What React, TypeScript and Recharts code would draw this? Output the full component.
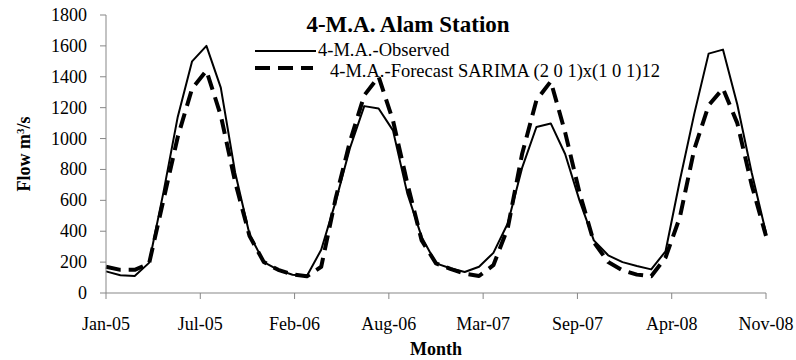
import * as React from "react";
import { LineChart, Line, XAxis, YAxis, Legend } from "recharts";

const FONT = "'Liberation Serif', 'Times New Roman', Times, serif";
const AXIS_GREY = "#878787";

// 4-month moving average of monthly flow (m3/s), Jan-05 .. Nov-08
const observed = [
  140, 115, 110, 195, 650, 1140, 1500, 1600, 1330, 780, 380, 200, 150, 118, 110,
  280, 590, 937, 1210, 1195, 1053, 645, 363, 192,
  160, 136, 170, 260, 450, 810, 1075, 1098, 900, 600, 341, 244, 200, 175, 153,
  270, 730, 1160, 1550, 1576, 1220, 780, 390,
];
const forecast = [
  170, 150, 150, 190, 600, 1010, 1324, 1440, 1150, 720, 370, 200, 150, 120, 108,
  170, 610, 980, 1280, 1400, 1118, 710, 340, 192,
  156, 125, 110, 180, 420, 900, 1248, 1370, 1040, 650, 330, 200, 147, 119, 108,
  230, 492, 930, 1215, 1324, 1100, 700, 370,
];

const monthNames = ["Jan", "Feb", "Mar", "Apr", "May", "Jun", "Jul", "Aug", "Sep", "Oct", "Nov", "Dec"];
const years = ["05", "06", "07", "08"];
const months = years
  .flatMap((y) => monthNames.map((m) => `${m}-${y}`))
  .slice(0, observed.length);

const xTickLabels = ["Jan-05", "Jul-05", "Feb-06", "Aug-06", "Mar-07", "Sep-07", "Apr-08", "Nov-08"];
const yTicks = [0, 200, 400, 600, 800, 1000, 1200, 1400, 1600, 1800];

const series = [
  { key: "observed", name: "4-M.A.-Observed", width: 2, dash: undefined as string | undefined },
  { key: "forecast", name: "4-M.A.-Forecast SARIMA (2 0 1)x(1 0 1)12", width: 4, dash: "15 8" },
];

const data = months.map((m, i) => ({
  i,
  month: m,
  observed: observed[i],
  forecast: forecast[i],
}));

const lastIndex = months.length - 1;
// Excel date axis: labels are evenly spaced over the span
const xTicks = xTickLabels.map((_, k) => (k * lastIndex) / (xTickLabels.length - 1));

function XTick(props: any) {
  const { x, y, payload, index } = props;
  let k = xTicks.indexOf(payload?.value);
  if (k < 0) k = index;
  return (
    <text x={x} y={y + 29} textAnchor="middle" fontFamily={FONT} fontSize={18} fill="#000">
      {xTickLabels[k]}
    </text>
  );
}

function YTick(props: any) {
  const { x, y, payload } = props;
  return (
    <text x={x - 11} y={y + 6} textAnchor="end" fontFamily={FONT} fontSize={18} fill="#000">
      {payload.value}
    </text>
  );
}

function renderLegend() {
  const rows = [
    { lineTo: 66, y: 13, textX: 68, base: 18 },
    { lineTo: 63, y: 30, textX: 80, base: 38.5 },
  ];
  return (
    <svg width={440} height={46} style={{ display: "block" }}>
      {series.map((s, k) => (
        <g key={s.key}>
          <line
            x1={5}
            x2={rows[k].lineTo}
            y1={rows[k].y}
            y2={rows[k].y}
            stroke="#000"
            strokeWidth={s.width}
            strokeDasharray={s.dash}
          />
          <text x={rows[k].textX} y={rows[k].base} fontFamily={FONT} fontSize={18.5} fill="#000">
            {s.name}
          </text>
        </g>
      ))}
    </svg>
  );
}

export default function App() {
  return (
    <div style={{ position: "absolute", left: 0, top: 0, width: 796, height: 360, background: "#fff" }}>
      <LineChart width={796} height={360} data={data} margin={{ top: 15, right: 30, bottom: 0, left: 0 }}>
        <XAxis
          dataKey="i"
          type="number"
          domain={[0, lastIndex]}
          ticks={xTicks}
          interval={0}
          allowDecimals
          height={67}
          tickSize={6}
          tickLine={{ stroke: AXIS_GREY }}
          axisLine={{ stroke: AXIS_GREY }}
          tick={<XTick />}
        />
        <YAxis
          type="number"
          domain={[0, 1800]}
          ticks={yTicks}
          interval={0}
          width={106}
          tickSize={6}
          tickLine={{ stroke: AXIS_GREY }}
          axisLine={{ stroke: AXIS_GREY }}
          tick={<YTick />}
        />
        <Legend
          layout="vertical"
          align="center"
          verticalAlign="middle"
          content={renderLegend}
          wrapperStyle={{ left: 250, top: 38, width: 440, height: 46 }}
        />
        {series.map((s) => (
          <Line
            key={s.key}
            dataKey={s.key}
            name={s.name}
            stroke="#000"
            strokeWidth={s.width}
            strokeDasharray={s.dash}
            strokeLinejoin="round"
            dot={false}
            activeDot={false}
            isAnimationActive={false}
          />
        ))}
      </LineChart>
      <svg
        width={796}
        height={360}
        style={{ position: "absolute", left: 0, top: 0, pointerEvents: "none" }}
      >
        <text x={408} y={32} textAnchor="middle" fontFamily={FONT} fontSize={23} fontWeight="bold" fill="#000">
          4-M.A. Alam Station
        </text>
        <text x={436} y={355} textAnchor="middle" fontFamily={FONT} fontSize={18} fontWeight="bold" fill="#000">
          Month
        </text>
        <text
          transform="translate(30 154) rotate(-90)"
          textAnchor="middle"
          fontFamily={FONT}
          fontSize={18}
          fontWeight="bold"
          fill="#000"
        >
          <tspan>Flow m</tspan>
          <tspan dy={-6} fontSize={11}>3</tspan>
          <tspan dy={6}>/s</tspan>
        </text>
      </svg>
    </div>
  );
}
